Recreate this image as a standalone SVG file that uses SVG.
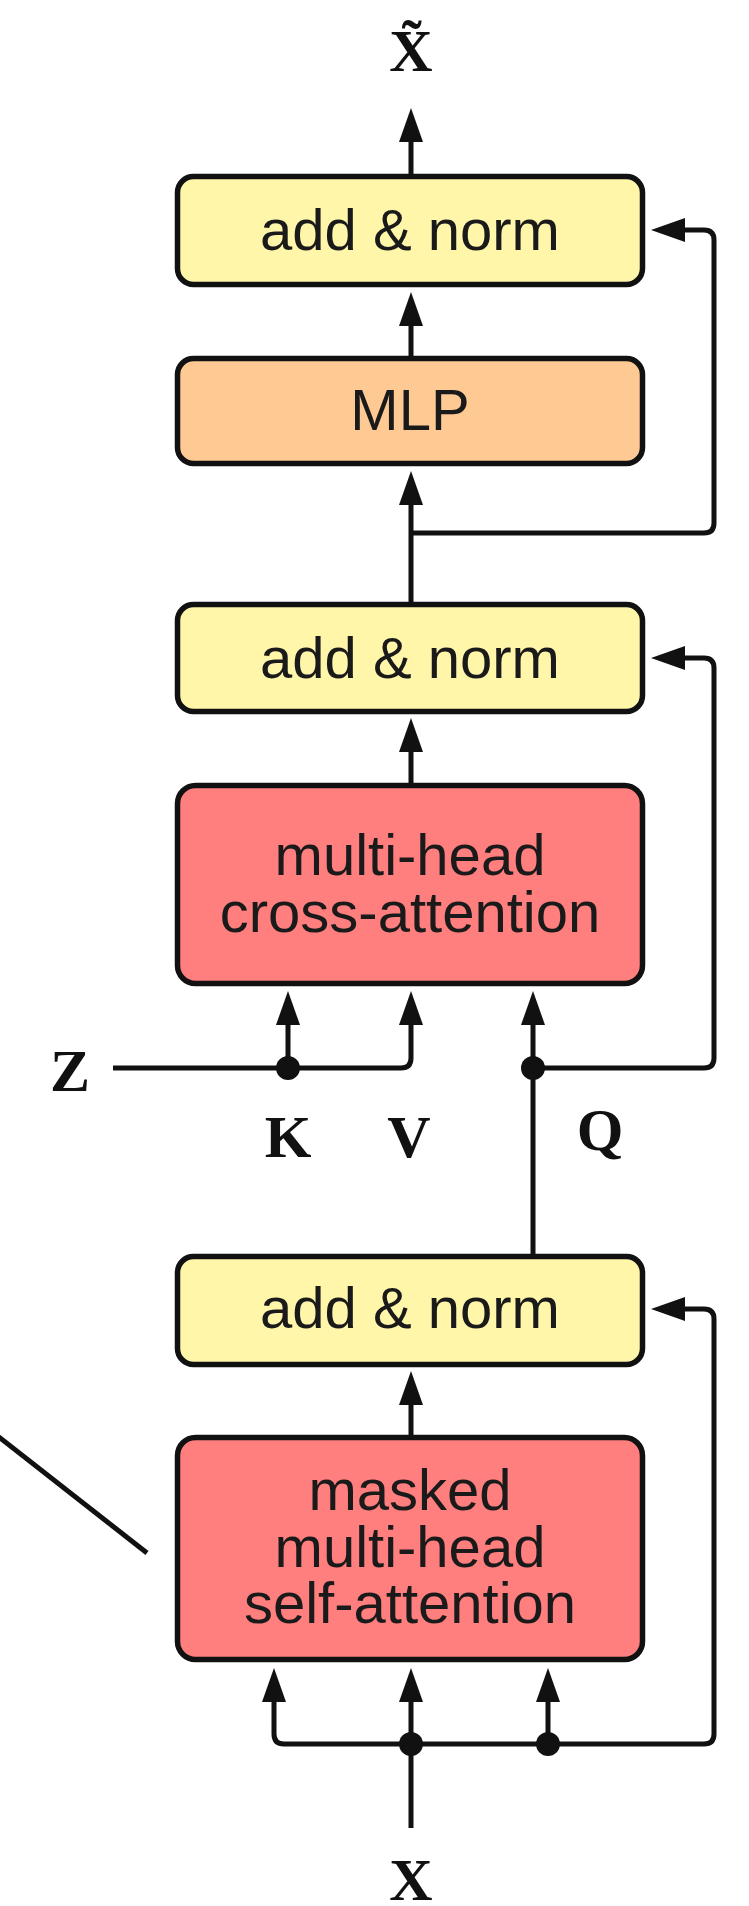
<svg xmlns="http://www.w3.org/2000/svg" width="749" height="1906" viewBox="0 0 749 1906">
  <style>
    .box { stroke: #111; stroke-width: 5.5; }
    .norm { fill: #FFF6AA; }
    .mlp { fill: #FFC994; }
    .attn { fill: #FF7E7E; }
    .lbl { font-family: "Liberation Sans", Arial, sans-serif; font-size: 58px; fill: #1a1a1a; text-anchor: middle; }
    .sym { font-family: "Liberation Serif", "Times New Roman", serif; font-weight: bold; font-size: 60px; fill: #111; text-anchor: middle; }
    .wire { fill: none; stroke: #111; stroke-width: 5; }
    .dot { fill: #111; }
  </style>
  <defs>
    <marker id="ah" viewBox="0 0 34 24" refX="1" refY="12" markerWidth="34" markerHeight="24" markerUnits="userSpaceOnUse" orient="auto">
      <path d="M0,0 L34,12 L0,24 z" fill="#111"/>
    </marker>
  </defs>

  <!-- connectors -->
  <g id="connectors">
    <path class="wire" marker-end="url(#ah)" d="M411,176 V141"/>
    <path class="wire" marker-end="url(#ah)" d="M411,358 V325"/>
    <path class="wire" marker-end="url(#ah)" d="M411,604 V504"/>
    <path class="wire" marker-end="url(#ah)" d="M411,533 H704 Q714,533 714,523 V240 Q714,230 704,230 H684"/>
    <path class="wire" marker-end="url(#ah)" d="M411,785 V751"/>
    <path class="wire" marker-end="url(#ah)" d="M113,1068 H401 Q411,1068 411,1058 V1024"/>
    <path class="wire" marker-end="url(#ah)" d="M288,1068 V1024"/>
    <path class="wire" marker-end="url(#ah)" d="M533,1256 V1024"/>
    <path class="wire" marker-end="url(#ah)" d="M533,1068 H704 Q714,1068 714,1058 V668 Q714,658 704,658 H684"/>
    <path class="wire" marker-end="url(#ah)" d="M411,1437 V1404"/>
    <path class="wire" marker-end="url(#ah)" d="M411,1828 V1701"/>
    <path class="wire" marker-end="url(#ah)" d="M411,1744 H284 Q274,1744 274,1734 V1701"/>
    <path class="wire" marker-end="url(#ah)" d="M411,1744 H704 Q714,1744 714,1734 V1319 Q714,1309 704,1309 H684"/>
    <path class="wire" marker-end="url(#ah)" d="M548,1744 V1701"/>
    <circle class="dot" cx="288" cy="1068" r="12"/>
    <circle class="dot" cx="533" cy="1068" r="12"/>
    <circle class="dot" cx="411" cy="1744" r="12"/>
    <circle class="dot" cx="548" cy="1744" r="12"/>
    <path class="wire" d="M-10,1430 L147,1553"/>
  </g>

  <!-- blocks -->
  <g id="addnorm-out">
    <rect class="box norm" x="177.5" y="176.5" width="465" height="108" rx="16"/>
    <text class="lbl" x="410" y="250">add &amp; norm</text>
  </g>
  <g id="mlp">
    <rect class="box mlp" x="177.5" y="358.5" width="465" height="105" rx="16"/>
    <text class="lbl" x="410" y="430">MLP</text>
  </g>
  <g id="addnorm-cross">
    <rect class="box norm" x="177.5" y="604.5" width="465" height="107" rx="16"/>
    <text class="lbl" x="410" y="678">add &amp; norm</text>
  </g>
  <g id="cross-attention">
    <rect class="box attn" x="177.5" y="785.5" width="465" height="198" rx="18"/>
    <text class="lbl" x="410" y="875">multi-head</text>
    <text class="lbl" x="410" y="932">cross-attention</text>
  </g>
  <g id="addnorm-self">
    <rect class="box norm" x="177.5" y="1256.5" width="465" height="108" rx="16"/>
    <text class="lbl" x="410" y="1328">add &amp; norm</text>
  </g>
  <g id="self-attention">
    <rect class="box attn" x="177.5" y="1437.5" width="465" height="222" rx="18"/>
    <text class="lbl" x="410" y="1510">masked</text>
    <text class="lbl" x="410" y="1567">multi-head</text>
    <text class="lbl" x="410" y="1623">self-attention</text>
  </g>

  <!-- symbols -->
  <g id="symbols">
    <text class="sym" x="411" y="71">X̃</text>
    <text class="sym" x="70" y="1091">Z</text>
    <text class="sym" x="288" y="1157">K</text>
    <text class="sym" x="409" y="1157">V</text>
    <text class="sym" x="600" y="1150">Q</text>
    <text class="sym" x="411" y="1900">X</text>
  </g>
</svg>
